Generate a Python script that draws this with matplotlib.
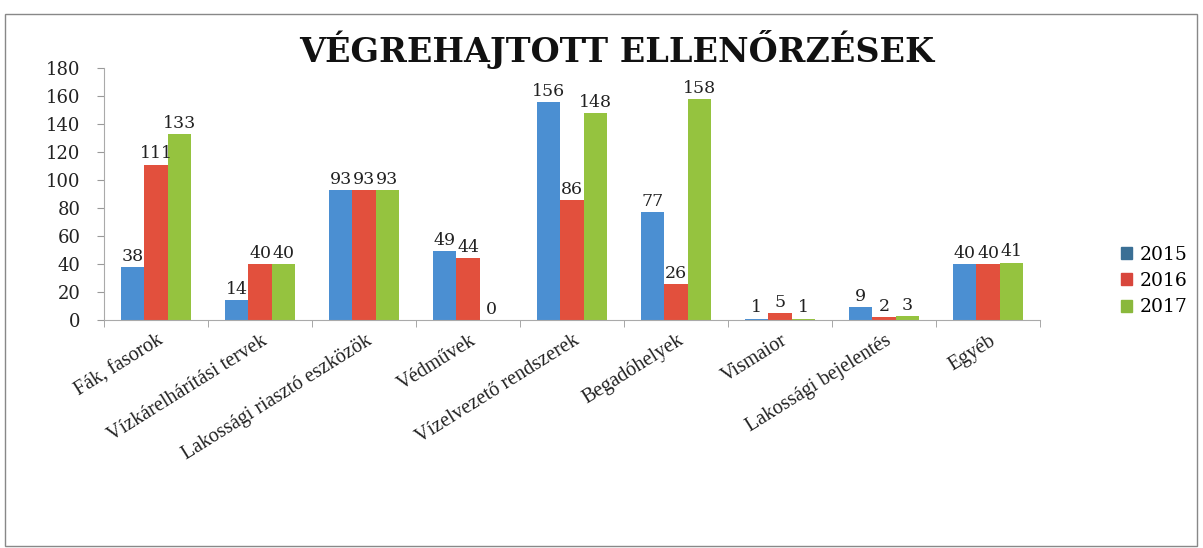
import numpy as np
import matplotlib
matplotlib.use("Agg")
import matplotlib.pyplot as plt
from matplotlib.patches import Rectangle

categories = ["Fák, fasorok", "Vízkárelhárítási tervek", "Lakossági riasztó eszközök",
              "Védművek", "Vízelvezető rendszerek", "Begadóhelyek", "Vismaior",
              "Lakossági bejelentés", "Egyéb"]
years = ["2015", "2016", "2017"]
v2015 = [38, 14, 93, 49, 156, 77, 1, 9, 40]
v2016 = [111, 40, 93, 44, 86, 26, 5, 2, 40]
v2017 = [133, 40, 93, 0, 148, 158, 1, 3, 41]
yticks = [0, 20, 40, 60, 80, 100, 120, 140, 160, 180]

colors = ["#4b8fd2", "#e2503d", "#95c33f"]
legend_colors = ["#3a6f95", "#d8463c", "#8ab83c"]

plt.rcParams['font.family'] = ['DejaVu Serif']

fig = plt.figure(figsize=(12.03, 5.48), dpi=100)
ax = fig.add_axes([104/1203, 1-320/548, (1040-104)/1203, (320-68)/548])

x = np.arange(len(categories))
w = 0.225
series = [v2015, v2016, v2017]
for i, vals in enumerate(series):
    xs = x + (i-1)*w
    ax.bar(xs, vals, width=w, color=colors[i], label=years[i])
    for xi, v in zip(xs, vals):
        ax.text(xi, v+1.5, str(v), ha="center", va="bottom", fontsize=12.5, color="#222222")

ax.set_xlim(-0.5, len(categories)-0.5)
ax.set_ylim(0, 180)
ax.set_yticks(yticks)
ax.set_yticklabels([str(t) for t in yticks], fontsize=13, color="#222222")
ax.tick_params(axis="y", length=5, color="#999999", pad=12)

ax.set_xticks(x)
ax.set_xticklabels([])
ax.tick_params(axis="x", length=0)
ax.set_xticks(np.arange(len(categories)+1)-0.5, minor=True)
ax.tick_params(axis="x", which="minor", length=5, color="#999999")
for xi, lab in zip(x, categories):
    ax.text(xi+0.01, -8, lab, rotation=32, rotation_mode="anchor", ha="right", va="top",
            fontsize=14.5, color="#222222", family=["Liberation Serif"],
            transform=ax.transData)

for s in ["top", "right"]:
    ax.spines[s].set_visible(False)
for s in ["left", "bottom"]:
    ax.spines[s].set_color("#aaaaaa")

fig.text(0.513, 0.91, "VÉGREHAJTOTT ELLENŐRZÉSEK", ha="center", va="center",
         fontsize=24, fontweight="bold", color="#111111")

handles = [plt.Rectangle((0, 0), 1, 1, color=c) for c in legend_colors]
fig.legend(handles, years, loc="center left", bbox_to_anchor=(1104/1203, 1-281/548),
           frameon=False, fontsize=13.5, handlelength=0.6, handleheight=0.6,
           handletextpad=0.4, labelspacing=0.45)

fig.patches.append(Rectangle((5/1203, 0.003), 1192/1203, 1-14/548-0.003,
                             transform=fig.transFigure, fill=False,
                             edgecolor="#888888", linewidth=1))

fig.savefig("out.png", dpi=100)
